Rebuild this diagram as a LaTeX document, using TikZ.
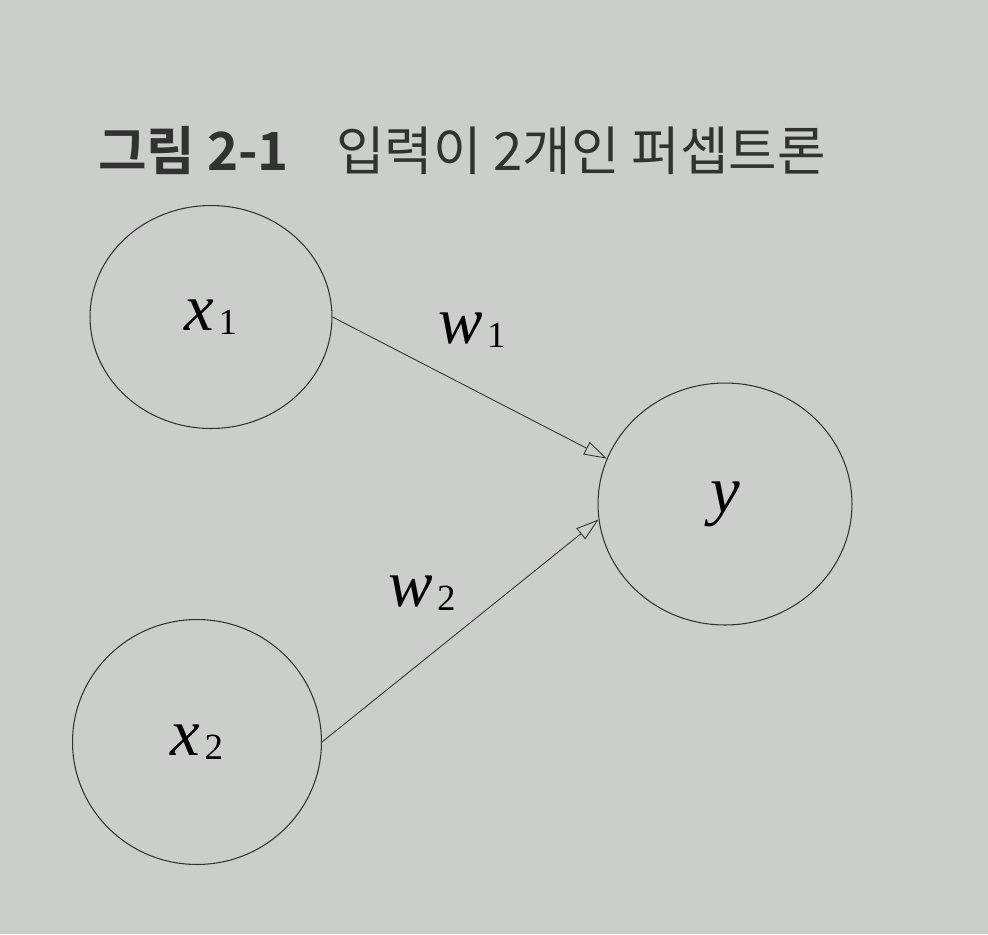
\documentclass[tikz,border=0pt]{standalone}
\usepackage{fontspec}
\setmainfont{Liberation Serif}
\newfontfamily\krfont[BoldFont={Noto Sans CJK KR Bold}]{Noto Sans CJK KR}
\usetikzlibrary{shapes.geometric,arrows.meta}
\definecolor{paper}{RGB}{204,206,203}
\definecolor{ink}{RGB}{50,50,50}
\newcommand{\var}[2]{{\itshape #1}\kern0.06em{\fontsize{21}{21}\selectfont\raisebox{-0.12em}{#2}}}
\tikzset{
  neuron/.style={draw=ink,ellipse,line width=0.6pt,inner sep=0pt,text=black},
  weight/.style={draw=ink,line width=0.5pt,-{Triangle[open,length=13pt,width=8pt,fill=paper]}},
  wlabel/.style={font=\fontsize{38}{40}\selectfont,text=black}
}
\begin{document}
\begin{tikzpicture}[x=0.02cm,y=-0.02cm]
      \fill[paper] (0,0) rectangle (988,934);
      \useasboundingbox (0,0) rectangle (988,934);
      \node[anchor=west,text=ink] (title) at (92,150)
        {\krfont\fontsize{30}{32}\selectfont\textbf{그림 2-1}\hspace{0.9em}입력이 2개인 퍼셉트론};
      \node[neuron,minimum width=4.84cm,minimum height=4.46cm,wlabel] (x1) at (211,317) {\var{x}{1}};
      \node[neuron,minimum width=4.98cm,minimum height=4.9cm,wlabel] (x2) at (197,742) {\var{x}{2}};
      \node[neuron,minimum width=5.08cm,minimum height=4.84cm,wlabel] (y) at (725,504) {\itshape y};
      \draw[weight] (x1.east) -- (y.159);
      \draw[weight] (x2.east) -- (y.187);
      \node[wlabel] (w1) at (472,330) {\var{w}{1}};
      \node[wlabel] (w2) at (422,593) {\var{w}{2}};
    \end{tikzpicture}
\end{document}
